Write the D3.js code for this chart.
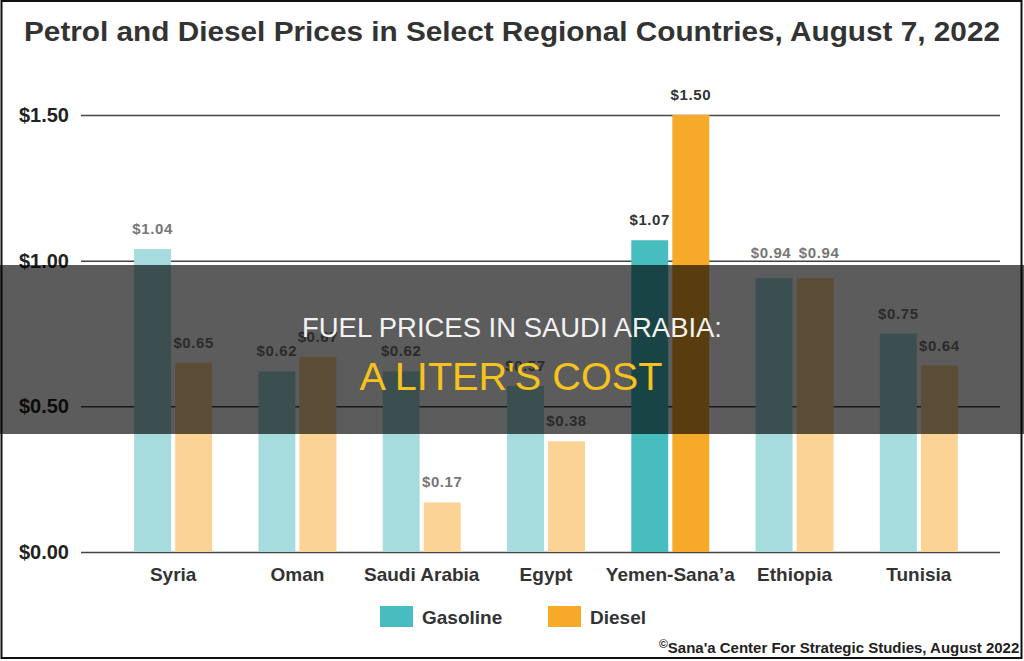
<!DOCTYPE html>
<html>
<head>
<meta charset="utf-8">
<script src="https://cdn.jsdelivr.net/npm/d3@7"></script>
<style>
  html, body { margin: 0; padding: 0; background: #fff; }
  svg { display: block; font-family: "Liberation Sans", Arial, sans-serif; }
</style>
</head>
<body>
<svg id="chart" width="1024" height="661"></svg>
<script>
// data
const countries = ["Syria", "Oman", "Saudi Arabia", "Egypt", "Yemen-Sana\u2019a", "Ethiopia", "Tunisia"];
const fuels = ["Gasoline", "Diesel"];
const gasoline = [1.04, 0.62, 0.62, 0.57, 1.07, 0.94, 0.75];
const diesel = [0.65, 0.67, 0.17, 0.38, 1.50, 0.94, 0.64];
const yTicks = [0, 0.5, 1.0, 1.5];
const highlighted = "Yemen-Sana\u2019a";

const title = "Petrol and Diesel Prices in Select Regional Countries, August 7, 2022";
const overlayLine1 = "FUEL PRICES IN SAUDI ARABIA:";
const overlayLine2 = "A LITER'S COST";
const credit = "Sana'a Center For Strategic Studies, August 2022";

const svg = d3.select("#chart");
const width = 1024, height = 661;

const colors = { Gasoline: "#47bdbf", Diesel: "#f7a928" };
const faded = { Gasoline: "#a6dcdd", Diesel: "#fbd495" };

// scales
const x0 = d3.scaleBand().domain(countries).range([111, 981]);
const x1 = d3.scaleBand().domain(fuels)
  .range([x0.bandwidth() / 2 - 39, x0.bandwidth() / 2 + 39])
  .paddingInner(0.1);
const y = d3.scaleLinear().domain([0, 1.5]).range([552, 115]);

// frame
svg.append("rect")
  .attr("x", 1.5).attr("y", 1).attr("width", 1020).attr("height", 657)
  .attr("fill", "none").attr("stroke", "#111").attr("stroke-width", 2);

// title
svg.append("text")
  .attr("x", 512).attr("y", 41)
  .attr("text-anchor", "middle")
  .attr("textLength", 976).attr("lengthAdjust", "spacingAndGlyphs")
  .attr("font-size", 27).attr("font-weight", "bold")
  .attr("fill", "#333")
  .text(title);

// y axis: gridlines + labels
const yAxis = svg.append("g")
  .attr("transform", "translate(81,0)")
  .call(d3.axisLeft(y).tickValues(yTicks).tickSize(-919).tickFormat(d => "$" + d3.format(".2f")(d)));
yAxis.select(".domain").remove();
yAxis.selectAll(".tick line").attr("stroke", "#444").attr("stroke-width", 1.5);
yAxis.selectAll(".tick text")
  .attr("x", -12)
  .attr("font-size", 20).attr("font-weight", "bold")
  .attr("font-family", "Liberation Sans, Arial, sans-serif")
  .attr("fill", "#222");

// bars
const rows = countries.map((c, i) => ({ country: c, values: [
  { fuel: "Gasoline", value: gasoline[i] },
  { fuel: "Diesel", value: diesel[i] }
]}));

const groups = svg.append("g").selectAll("g")
  .data(rows)
  .join("g")
  .attr("transform", d => `translate(${x0(d.country)},0)`);

groups.selectAll("rect")
  .data(d => d.values.map(v => ({ ...v, country: d.country })))
  .join("rect")
  .attr("x", d => x1(d.fuel))
  .attr("width", x1.bandwidth())
  .attr("y", d => y(d.value))
  .attr("height", d => y(0) - y(d.value))
  .attr("fill", d => d.country === highlighted ? colors[d.fuel] : faded[d.fuel]);

// value labels; when both labels in a group sit at the same height, push them apart a bit
groups.selectAll("text.val")
  .data(d => {
    const tie = Math.abs(d.values[0].value - d.values[1].value) < 0.03;
    return d.values.map(v => ({ ...v, country: d.country, tie }));
  })
  .join("text")
  .attr("class", "val")
  .attr("x", d => x1(d.fuel) + x1.bandwidth() / 2 + (d.tie ? (d.fuel === "Gasoline" ? -3 : 4) : 0))
  .attr("y", d => y(d.value) - (d.tie ? 20 : 15))
  .attr("text-anchor", "middle")
  .attr("font-size", 15).attr("font-weight", "bold")
  .attr("letter-spacing", 0.6)
  .attr("fill", d => d.country === highlighted ? "#333" : "#777")
  .text(d => "$" + d3.format(".2f")(d.value));

// x axis labels
const xAxis = svg.append("g")
  .attr("transform", "translate(0,552)")
  .call(d3.axisBottom(x0).tickSize(0).tickPadding(0));
xAxis.select(".domain").remove();
xAxis.selectAll(".tick text")
  .attr("y", 29).attr("dy", 0)
  .attr("font-size", 19).attr("font-weight", "bold")
  .attr("font-family", "Liberation Sans, Arial, sans-serif")
  .attr("fill", "#333");

// legend
const legendX = { Gasoline: 380, Diesel: 548 };
const legend = svg.append("g").selectAll("g")
  .data(fuels)
  .join("g")
  .attr("transform", d => `translate(${legendX[d]},606)`);
legend.append("rect")
  .attr("width", 33).attr("height", 21)
  .attr("fill", d => colors[d]);
legend.append("text")
  .attr("x", 42).attr("y", 18)
  .attr("font-size", 19).attr("font-weight", "bold")
  .attr("fill", "#333")
  .text(d => d);

// credit line
const cr = svg.append("text")
  .attr("x", 659).attr("y", 653)
  .attr("font-size", 15).attr("font-weight", "bold")
  .attr("fill", "#222");
cr.append("tspan").attr("font-size", 12).attr("dy", -5).text("\u00a9");
cr.append("tspan").attr("dy", 5).text(credit);

// dark overlay band with headline
svg.append("rect")
  .attr("x", 0).attr("y", 265).attr("width", width).attr("height", 169)
  .attr("fill", "#000").attr("fill-opacity", 0.64);

svg.append("text")
  .attr("x", 512).attr("y", 337)
  .attr("text-anchor", "middle")
  .attr("textLength", 420).attr("lengthAdjust", "spacingAndGlyphs")
  .attr("font-size", 27)
  .attr("fill", "#f2f2f2")
  .text(overlayLine1);

svg.append("text")
  .attr("x", 511).attr("y", 390)
  .attr("text-anchor", "middle")
  .attr("textLength", 303).attr("lengthAdjust", "spacingAndGlyphs")
  .attr("font-size", 38)
  .attr("fill", "#f6c21c")
  .text(overlayLine2);
</script>
</body>
</html>
